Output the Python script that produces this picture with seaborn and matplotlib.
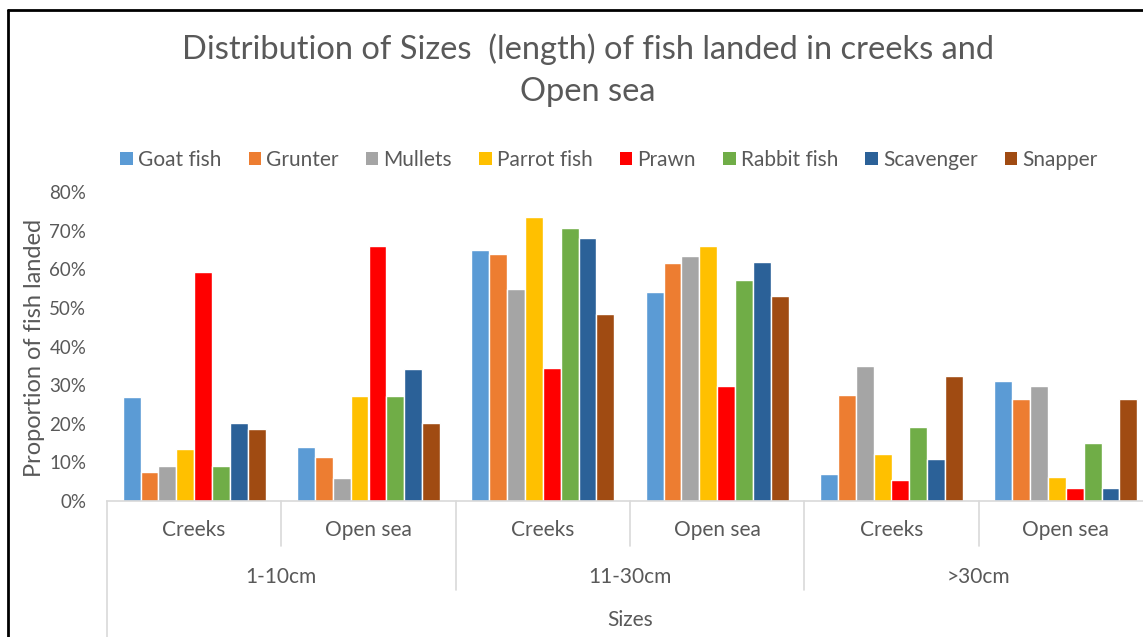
import numpy as np
import pandas as pd
import matplotlib
matplotlib.use("Agg")
import matplotlib.pyplot as plt
import matplotlib.transforms as mtransforms
from matplotlib.patches import Rectangle
from matplotlib.lines import Line2D
import seaborn as sns

# ---- data ----
sizes = ["1-10cm", "11-30cm", ">30cm"]
places = ["Creeks", "Open sea"]
species = ["Goat fish", "Grunter", "Mullets", "Parrot fish", "Prawn",
           "Rabbit fish", "Scavenger", "Snapper"]
# values per species, order: (1-10 Creeks, 1-10 Open, 11-30 Creeks, 11-30 Open, >30 Creeks, >30 Open)
goat_fish   = [0.27, 0.14, 0.65, 0.54, 0.07, 0.31]
grunter     = [0.075, 0.113, 0.64, 0.615, 0.274, 0.264]
mullets     = [0.091, 0.06, 0.55, 0.634, 0.35, 0.298]
parrot_fish = [0.134, 0.272, 0.735, 0.659, 0.121, 0.063]
prawn       = [0.592, 0.661, 0.344, 0.299, 0.055, 0.034]
rabbit_fish = [0.091, 0.272, 0.708, 0.571, 0.192, 0.151]
scavenger   = [0.203, 0.341, 0.681, 0.619, 0.11, 0.034]
snapper     = [0.187, 0.201, 0.483, 0.531, 0.323, 0.264]
series = [goat_fish, grunter, mullets, parrot_fish, prawn, rabbit_fish, scavenger, snapper]
colors = ["#5B9BD5", "#ED7D31", "#A5A5A5", "#FFC000", "#FF0000",
          "#70AD47", "#2B6198", "#A04B12"]
yticks = [0, 0.1, 0.2, 0.3, 0.4, 0.5, 0.6, 0.7, 0.8]

cats = [f"{s}|{p}" for s in sizes for p in places]
rows = []
for sp, vals in zip(species, series):
    for c, v in zip(cats, vals):
        rows.append({"cat": c, "species": sp, "value": v})
df = pd.DataFrame(rows)

sns.set_theme(style="white")
plt.rcParams["font.family"] = ["Lato", "DejaVu Sans"]
txt = "#595959"

W, H = 1143, 637
fig = plt.figure(figsize=(W / 100, H / 100), dpi=100)
fig.patch.set_facecolor("white")

ax_left, ax_right, ax_bottom, ax_top = 107, 1153, 501, 192
ax = fig.add_axes([ax_left / W, 1 - ax_bottom / H, (ax_right - ax_left) / W, (ax_bottom - ax_top) / H])

sns.barplot(data=df, x="cat", y="value", hue="species", order=cats,
            hue_order=species, palette=colors, width=0.82, ax=ax,
            edgecolor="white", linewidth=1.0, saturation=1, errorbar=None)

ax.set_ylim(0, 0.8)
ax.set_xlim(-0.5, len(cats) - 0.5)
ax.set_yticks(yticks)
ax.set_yticklabels([f"{int(round(t*100))}%" for t in yticks], fontsize=13.5, color=txt)
ax.tick_params(axis="y", length=0, pad=15)
ax.set_xticks([])
ax.set_xlabel("")
ax.set_ylabel("")
for s in ["top", "right", "left"]:
    ax.spines[s].set_visible(False)
ax.spines["bottom"].set_color("#D9D9D9")
ax.spines["bottom"].set_linewidth(1.2)
ax.get_legend().remove()

# hierarchical category axis
trans = mtransforms.blended_transform_factory(ax.transData, ax.transAxes)
axh = ax_bottom - ax_top
def fy(py):
    return (ax_bottom - py) / axh

for i, c in enumerate(cats):
    ax.text(i, fy(530), c.split("|")[1], transform=trans, ha="center", va="center",
            fontsize=15, color=txt)
for j, s in enumerate(sizes):
    ax.text(2 * j + 0.5, fy(577), s, transform=trans, ha="center", va="center",
            fontsize=15, color=txt)
ax.text(2.5, fy(620), "Sizes", transform=trans, ha="center", va="center",
        fontsize=15, color=txt)

lc = "#D9D9D9"
ax.add_line(Line2D([-0.5, -0.5], [0, fy(640)], transform=trans, color=lc, lw=1.2, clip_on=False))
for x in [0.5, 2.5, 4.5]:
    ax.add_line(Line2D([x, x], [0, fy(546)], transform=trans, color=lc, lw=1.2, clip_on=False))
for x in [1.5, 3.5]:
    ax.add_line(Line2D([x, x], [0, fy(590)], transform=trans, color=lc, lw=1.2, clip_on=False))

# y label
fig.text(35 / W, 1 - 348 / H, "Proportion of fish landed", rotation=90,
         ha="center", va="center", fontsize=17, color=txt)

# title
fig.text(588 / W, 1 - 70 / H, "Distribution of Sizes  (length) of fish landed in creeks and\nOpen sea",
         ha="center", va="center", fontsize=23.5, color=txt, linespacing=1.5,
         multialignment="center")

# legend
handles = [Rectangle((0, 0), 1, 1, facecolor=c, edgecolor="none") for c in colors]
fig.legend(handles, species, loc="center", bbox_to_anchor=(609 / W, 1 - 160 / H),
           ncol=8, frameon=False, fontsize=15, handlelength=0.6, handleheight=0.6,
           handletextpad=0.25, columnspacing=1.3, labelcolor=txt)

# outer frame (partially cropped)
fig.add_artist(Line2D([8 / W, 8 / W], [0, 1 - 10 / H], transform=fig.transFigure, color="black", lw=2))
fig.add_artist(Line2D([8 / W, 1], [1 - 10 / H, 1 - 10 / H], transform=fig.transFigure, color="black", lw=2))

fig.savefig("out.png", dpi=100, facecolor="white")
